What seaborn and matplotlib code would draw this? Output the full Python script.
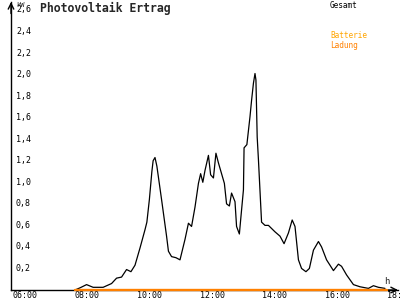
import matplotlib
matplotlib.use("Agg")
import matplotlib.pyplot as plt
import matplotlib.transforms as mtransforms
import seaborn as sns
import pandas as pd

# ---- data (hours of day, kW) ----
gesamt_hours = [7.92, 8.08, 8.29, 8.50, 8.82, 9.09, 9.25, 9.41, 9.57, 9.71, 9.84,
                10.00, 10.16, 10.22, 10.30, 10.38, 10.42, 10.48, 10.54, 10.69, 10.85,
                10.91, 11.01, 11.15, 11.28, 11.44, 11.55, 11.65, 11.76, 11.87, 11.94,
                12.01, 12.08, 12.19, 12.26, 12.35, 12.43, 12.51, 12.61, 12.70, 12.77,
                12.86, 12.93, 13.04, 13.09, 13.18, 13.23, 13.31, 13.33, 13.42, 13.52,
                13.57, 13.63, 13.68, 13.71, 13.75, 13.79, 13.89, 14.00, 14.11, 14.32,
                14.48, 14.61, 14.75, 14.87, 14.96, 15.07, 15.17, 15.31, 15.42, 15.55,
                15.71, 15.81, 15.97, 16.19, 16.35, 16.45, 16.61, 16.83, 17.04, 17.31,
                17.47, 17.63, 17.84]
gesamt_kw = [0.00, 0.02, 0.05, 0.025, 0.025, 0.06, 0.11, 0.12, 0.19, 0.17, 0.23,
             0.39, 0.56, 0.63, 0.84, 1.10, 1.20, 1.23, 1.15, 0.84, 0.50,
             0.36, 0.31, 0.30, 0.28, 0.47, 0.62, 0.59, 0.77, 0.99, 1.08,
             1.00, 1.11, 1.25, 1.07, 1.04, 1.27, 1.18, 1.08, 0.99, 0.80,
             0.78, 0.90, 0.82, 0.59, 0.52, 0.68, 0.93, 1.32, 1.35, 1.61,
             1.76, 1.92, 2.01, 1.95, 1.42, 1.21, 0.63, 0.60, 0.60, 0.54,
             0.50, 0.43, 0.53, 0.65, 0.59, 0.28, 0.20, 0.17, 0.20, 0.37,
             0.45, 0.40, 0.28, 0.18, 0.24, 0.22, 0.14, 0.05, 0.03, 0.015,
             0.04, 0.025, 0.015]
ladung_hours = [7.92, 17.90]
ladung_kw = [0.0, 0.0]

y_ticks = [0.2, 0.4, 0.6, 0.8, 1.0, 1.2, 1.4, 1.6, 1.8, 2.0, 2.2, 2.4, 2.6]
y_tick_labels = ["0,2", "0,4", "0,6", "0,8", "1,0", "1,2", "1,4", "1,6", "1,8",
                 "2,0", "2,2", "2,4", "2,6"]
x_ticks = [6, 8, 10, 12, 14, 16, 18]
x_tick_labels = ["06:00", "08:00", "10:00", "12:00", "14:00", "16:00", "18:00"]

title = "Photovoltaik Ertrag"
legend_labels = ["Gesamt", "Batterie", "Ladung"]
legend_colors = ["#000000", "#FFA500", "#FF8000"]

# ---- style ----
sns.set_style("white")
plt.rcParams["font.family"] = ["DejaVu Sans Mono", "DejaVu Sans"]

fig = plt.figure(figsize=(4, 3), dpi=100)
W, H = 400, 300
ax = fig.add_axes([11 / W, 10 / H, (398 - 11) / W, 288 / H])

df_g = pd.DataFrame({"h": gesamt_hours, "kw": gesamt_kw})
df_l = pd.DataFrame({"h": ladung_hours, "kw": ladung_kw})

sns.lineplot(data=df_g, x="h", y="kw", ax=ax, color="black", lw=0.9,
             estimator=None, sort=False, zorder=4)
sns.lineplot(data=df_l, x="h", y="kw", ax=ax, color="#FF8000", lw=1.7,
             estimator=None, sort=False, zorder=5)
for ln in ax.lines:
    ln.set_clip_on(False)

ax.set_xlim(5.872, 18.256)
ax.set_ylim(0, 2.674)
for s in ["top", "right"]:
    ax.spines[s].set_visible(False)
for s in ["left", "bottom"]:
    ax.spines[s].set_linewidth(1.0)
    ax.spines[s].set_color("black")
    ax.spines[s].set_zorder(2)

ax.set_xlabel("")
ax.set_ylabel("")
ax.set_yticks(y_ticks)
ax.set_yticklabels([])
ax.set_xticks(x_ticks)
ax.set_xticklabels([])
ax.tick_params(axis="both", direction="inout", length=6, width=1, color="black")

ytrans = mtransforms.blended_transform_factory(ax.transAxes, ax.transData)
for v, lab in zip(y_ticks, y_tick_labels):
    ax.text(5 / 387, v, lab, transform=ytrans, ha="left", va="center",
            fontsize=6, color="black", clip_on=False)

xtrans = mtransforms.blended_transform_factory(ax.transData, ax.transAxes)
for v, lab in zip(x_ticks, x_tick_labels):
    ax.text(v - 0.09, -6 / 288, lab, transform=xtrans, ha="left", va="center",
            fontsize=6, color="black", clip_on=False)

# axis arrows
ax.annotate("", xy=(1.0, 0), xytext=(0.97, 0), xycoords="axes fraction",
            arrowprops=dict(arrowstyle="->", lw=1, color="black",
                            shrinkA=0, shrinkB=0), annotation_clip=False)
ax.annotate("", xy=(0, 1.0), xytext=(0, 0.96), xycoords="axes fraction",
            arrowprops=dict(arrowstyle="->", lw=1, color="black",
                            shrinkA=0, shrinkB=0), annotation_clip=False)

fig.text(16 / W, 1 - 5 / H, "kW", fontsize=5, ha="left", va="center")
fig.text(384 / W, 1 - 282 / H, "h", fontsize=6.5, ha="left", va="center")
fig.text(40 / W, 1 - 8 / H, title, fontsize=8.3, fontweight="bold",
         ha="left", va="center")
for lab, col, yp in zip(legend_labels, legend_colors, [5.5, 36, 45]):
    fig.text(330 / W, 1 - yp / H, lab, fontsize=5.6, color=col,
             ha="left", va="center")

fig.savefig("out.png", dpi=100, facecolor="white")
